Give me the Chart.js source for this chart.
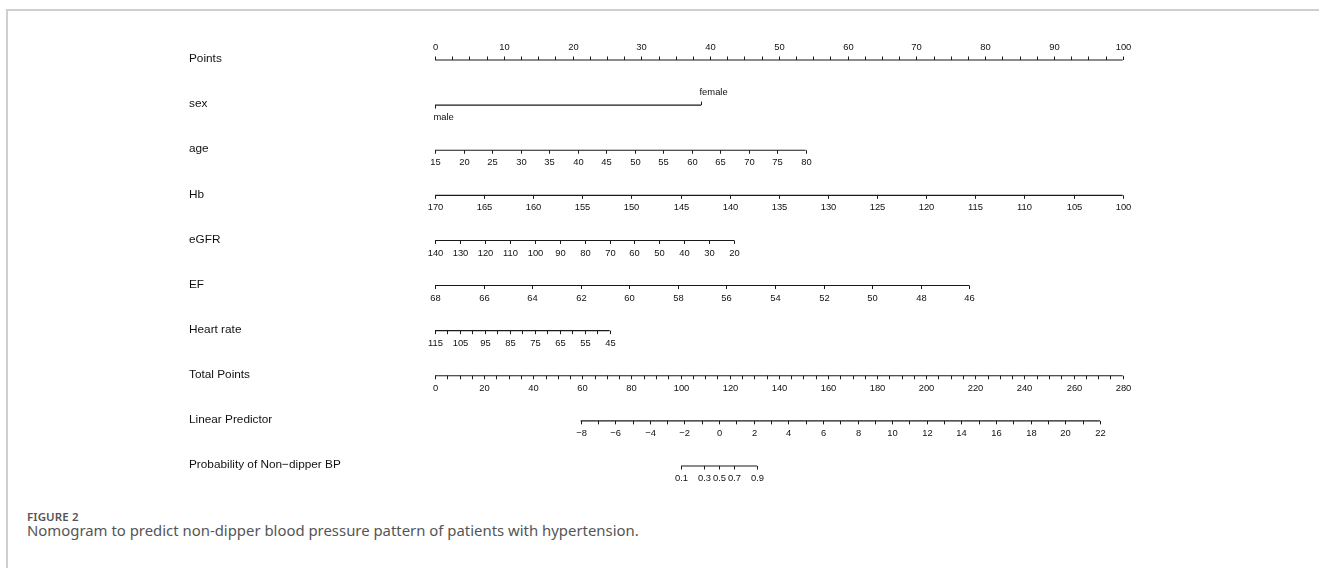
<!DOCTYPE html>
<html>
<head>
<meta charset="utf-8">
<script src="https://cdn.jsdelivr.net/npm/chart.js@4.4.1/dist/chart.umd.min.js"></script>
<style>
  body { margin: 0; background: #fff; width: 1319px; height: 568px; overflow: hidden; position: relative; }
  .frame { position: absolute; left: 6px; top: 9px; width: 1400px; height: 600px;
           border-left: 2px solid #cfcfcf; border-top: 2px solid #cfcfcf; }
  #wrap { position: absolute; left: 0; top: 0; width: 1319px; height: 500px; }
  .cap { position: absolute; left: 27px; color: #555; font-family: "Noto Sans", sans-serif; white-space: nowrap; }
  .fig { top: 509px; font-size: 11.5px; font-weight: 600; letter-spacing: 0.1px; }
  .txt { top: 520px; font-size: 14.9px; }
</style>
</head>
<body>
<div class="frame"></div>
<div id="wrap"><canvas id="myChart" width="1319" height="500"></canvas></div>
<div class="cap fig">FIGURE 2</div>
<div class="cap txt">Nomogram to predict non-dipper blood pressure pattern of patients with hypertension.</div>
<script>
// row names, top to bottom
const rowNames = ['Points', 'sex', 'age', 'Hb', 'eGFR', 'EF', 'Heart rate',
                  'Total Points', 'Linear Predictor', 'Probability of Non\u2212dipper BP'];

// points axis
const pointsLabels = [0, 10, 20, 30, 40, 50, 60, 70, 80, 90, 100];
const pointsMinorStep = 2.5;

// predictors: tick values and the points of the first / last value
const sexLevels = ['male', 'female'];
const sexPoints = [0, 38.7];
const ageTicks = [15, 20, 25, 30, 35, 40, 45, 50, 55, 60, 65, 70, 75, 80];
const agePoints = [0, 53.9];
const hbTicks = [170, 165, 160, 155, 150, 145, 140, 135, 130, 125, 120, 115, 110, 105, 100];
const hbPoints = [0, 100];
const egfrTicks = [140, 130, 120, 110, 100, 90, 80, 70, 60, 50, 40, 30, 20];
const egfrPoints = [0, 43.5];
const efTicks = [68, 66, 64, 62, 60, 58, 56, 54, 52, 50, 48, 46];
const efPoints = [0, 77.7];
const hrTicks = [115, 110, 105, 100, 95, 90, 85, 80, 75, 70, 65, 60, 55, 50, 45];
const hrLabels = [115, 105, 95, 85, 75, 65, 55, 45];
const hrPoints = [0, 25.4];

// total points / linear predictor / probability
const totalLabels = [0, 20, 40, 60, 80, 100, 120, 140, 160, 180, 200, 220, 240, 260, 280];
const totalMinorStep = 5;
const totalMax = 280;
const lpLabels = [-8, -6, -4, -2, 0, 2, 4, 6, 8, 10, 12, 14, 16, 18, 20, 22];
const lpMinorStep = 1;
const lpTotalPoints = [59.3, 270.7];   // total points at lp = -8 and lp = 22
const probTicks = [0.1, 0.3, 0.5, 0.7, 0.9];

// helpers
const lin = (v, v0, v1, p0, p1) => p0 + (v - v0) / (v1 - v0) * (p1 - p0);
const range = (a, b, s) => { const r = []; for (let v = a; v <= b + 1e-9; v += s) r.push(+v.toFixed(4)); return r; };
const fmt = v => (v < 0 ? '\u2212' + Math.abs(v) : String(v));
const tpToPts = tp => tp * 100 / totalMax;
const lpToPts = lp => tpToPts(lin(lp, lpLabels[0], lpLabels[lpLabels.length - 1], lpTotalPoints[0], lpTotalPoints[1]));

function numRow(ticks, pts, labels) {
  const v0 = ticks[0], v1 = ticks[ticks.length - 1];
  return ticks.map(v => ({ x: lin(v, v0, v1, pts[0], pts[1]), label: (!labels || labels.includes(v)) ? fmt(v) : '' }));
}

const rows = [];
rows.push({ dir: -1, ticks: range(0, 100, pointsMinorStep).map(v => ({ x: v, label: pointsLabels.includes(v) ? String(v) : '' })) });
rows.push({ dir: 1, ticks: sexLevels.map((s, i) => ({ x: sexPoints[i], label: s, dir: i === 0 ? 1 : -1, align: 'left' })) });
rows.push({ dir: 1, ticks: numRow(ageTicks, agePoints) });
rows.push({ dir: 1, ticks: numRow(hbTicks, hbPoints) });
rows.push({ dir: 1, ticks: numRow(egfrTicks, egfrPoints) });
rows.push({ dir: 1, ticks: numRow(efTicks, efPoints) });
rows.push({ dir: 1, ticks: numRow(hrTicks, hrPoints, hrLabels) });
rows.push({ dir: 1, ticks: range(0, totalMax, totalMinorStep).map(v => ({ x: tpToPts(v), label: totalLabels.includes(v) ? String(v) : '' })) });
rows.push({ dir: 1, ticks: range(lpLabels[0], lpLabels[lpLabels.length - 1], lpMinorStep).map(v => ({ x: lpToPts(v), label: lpLabels.includes(v) ? fmt(v) : '' })) });
rows.push({ dir: 1, ticks: probTicks.map(p => ({ x: lpToPts(Math.log(p / (1 - p))), label: String(p) })) });

const datasets = rows.map((r, i) => ({
  label: rowNames[i],
  data: r.ticks.map(t => ({ x: t.x, y: i })).sort((a, b) => a.x - b.x),
  borderColor: '#1a1a1a',
  borderWidth: 1.1,
  pointRadius: 0,
  showLine: true,
  clip: false
}));

const nomogramPlugin = {
  id: 'nomogram',
  afterDatasetsDraw(chart) {
    const ctx = chart.ctx, xs = chart.scales.x, ys = chart.scales.y;
    ctx.save();
    rows.forEach((r, i) => {
      const y = ys.getPixelForValue(i);
      // row name
      ctx.fillStyle = '#111';
      ctx.font = '11.8px "Liberation Sans", Arial, sans-serif';
      ctx.textAlign = 'left';
      ctx.textBaseline = 'middle';
      ctx.fillText(rowNames[i], 189, y - 1);
      // ticks and tick labels
      ctx.strokeStyle = '#1a1a1a';
      ctx.lineWidth = 1;
      ctx.font = '9.4px "Liberation Sans", Arial, sans-serif';
      r.ticks.forEach(t => {
        const x = Math.round(xs.getPixelForValue(t.x)) + 0.5;
        const d = t.dir || r.dir;
        const len = 3.5;
        ctx.beginPath();
        ctx.moveTo(x, y);
        ctx.lineTo(x, y + d * len);
        ctx.stroke();
        if (t.label) {
          ctx.textAlign = t.align || 'center';
          ctx.fillText(t.label, t.align ? x - 2 : x, y + d * 12.5);
        }
      });
    });
    ctx.restore();
  }
};

const config = {
  type: 'line',
  data: { datasets: datasets },
  options: {
    responsive: false,
    animation: false,
    layout: { padding: { left: 435, right: 196.3, top: 60, bottom: 34 } },
    scales: {
      x: { type: 'linear', min: 0, max: 100, display: false },
      y: { type: 'linear', min: 0, max: 9, reverse: true, display: false }
    },
    plugins: { legend: { display: false }, tooltip: { enabled: false }, title: { display: false } }
  },
  plugins: [nomogramPlugin]
};

var myChart = new Chart(document.getElementById('myChart'), config);
</script>
</body>
</html>
